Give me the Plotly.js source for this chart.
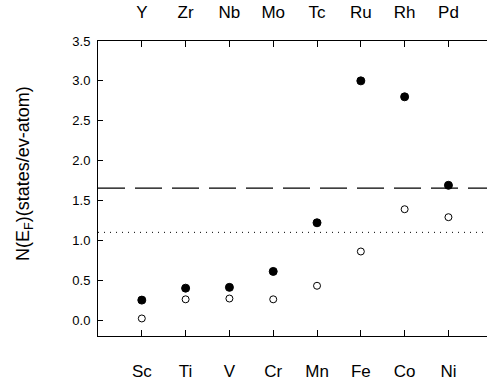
<!DOCTYPE html>
<html><head><meta charset="utf-8">
<script src="https://cdn.plot.ly/plotly-3.0.1.min.js"></script>
<style>html,body{margin:0;padding:0;overflow:hidden;background:#fff}</style>
</head><body><div id="chart" style="width:487px;height:384px"></div>
<script>
const xPos = [1, 2, 3, 4, 5, 6, 7, 8];
const bottomLabels = ["Sc", "Ti", "V", "Cr", "Mn", "Fe", "Co", "Ni"];
const topLabels = ["Y", "Zr", "Nb", "Mo", "Tc", "Ru", "Rh", "Pd"];
const filledValues = [0.25, 0.40, 0.41, 0.61, 1.22, 3.00, 2.80, 1.69];
const openValues = [0.02, 0.26, 0.27, 0.26, 0.43, 0.86, 1.39, 1.29];
const dashedLevel = 1.655;
const dottedLevel = 1.10;
const yTicks = [0, 0.5, 1.0, 1.5, 2.0, 2.5, 3.0, 3.5];

const font = "Liberation Sans, Arial, sans-serif";
const traces = [
  {x: xPos, y: filledValues, mode: "markers", type: "scatter",
   marker: {color: "black", size: 8, line: {color: "black", width: 1}}},
  {x: xPos, y: openValues, mode: "markers", type: "scatter",
   marker: {color: "white", size: 7, line: {color: "black", width: 1}}},
  {x: xPos, y: openValues, xaxis: "x2", mode: "markers", type: "scatter",
   marker: {opacity: 0}, hoverinfo: "skip"}
];
const layout = {
  width: 487, height: 384,
  margin: {l: 98, r: 0, t: 41, b: 48},
  showlegend: false,
  paper_bgcolor: "white", plot_bgcolor: "white",
  font: {family: font, color: "black"},
  xaxis: {range: [0, 8.88], tickvals: xPos, ticktext: bottomLabels,
    ticks: "inside", ticklen: 6, tickcolor: "black", showline: true, linecolor: "black", linewidth: 1,
    showgrid: false, zeroline: false, tickfont: {size: 17, family: font}, ticklabelstandoff: 20},
  xaxis2: {range: [0, 8.88], tickvals: xPos, ticktext: topLabels, overlaying: "x", side: "top",
    ticks: "inside", ticklen: 6, tickcolor: "black", showline: true, linecolor: "black", linewidth: 1,
    showgrid: false, zeroline: false, tickfont: {size: 17, family: font}, ticklabelstandoff: 15},
  yaxis: {range: [-0.2, 3.5], tickvals: yTicks, tickformat: ".1f",
    ticks: "inside", ticklen: 5, tickcolor: "black", showline: true, linecolor: "black", linewidth: 1,
    showgrid: false, zeroline: false, tickfont: {size: 13, family: font}, ticklabelstandoff: 4},
  shapes: [
    {type: "line", xref: "paper", x0: 0, x1: 1, yref: "y", y0: dashedLevel, y1: dashedLevel,
     line: {color: "black", width: 1.3, dash: "27px,10px"}},
    {type: "line", xref: "paper", x0: 0, x1: 1, yref: "y", y0: dottedLevel, y1: dottedLevel,
     line: {color: "black", width: 1, dash: "1px,5px"}}
  ],
  annotations: [
    {text: "N(E<sub>F</sub>)(states/ev-atom)", textangle: -90, xref: "paper", yref: "paper",
     x: -0.189, y: 0.551, xanchor: "center", yanchor: "middle", showarrow: false,
     font: {size: 18, family: font}}
  ]
};
Plotly.newPlot("chart", traces, layout, {displayModeBar: false, staticPlot: true});
</script></body></html>
